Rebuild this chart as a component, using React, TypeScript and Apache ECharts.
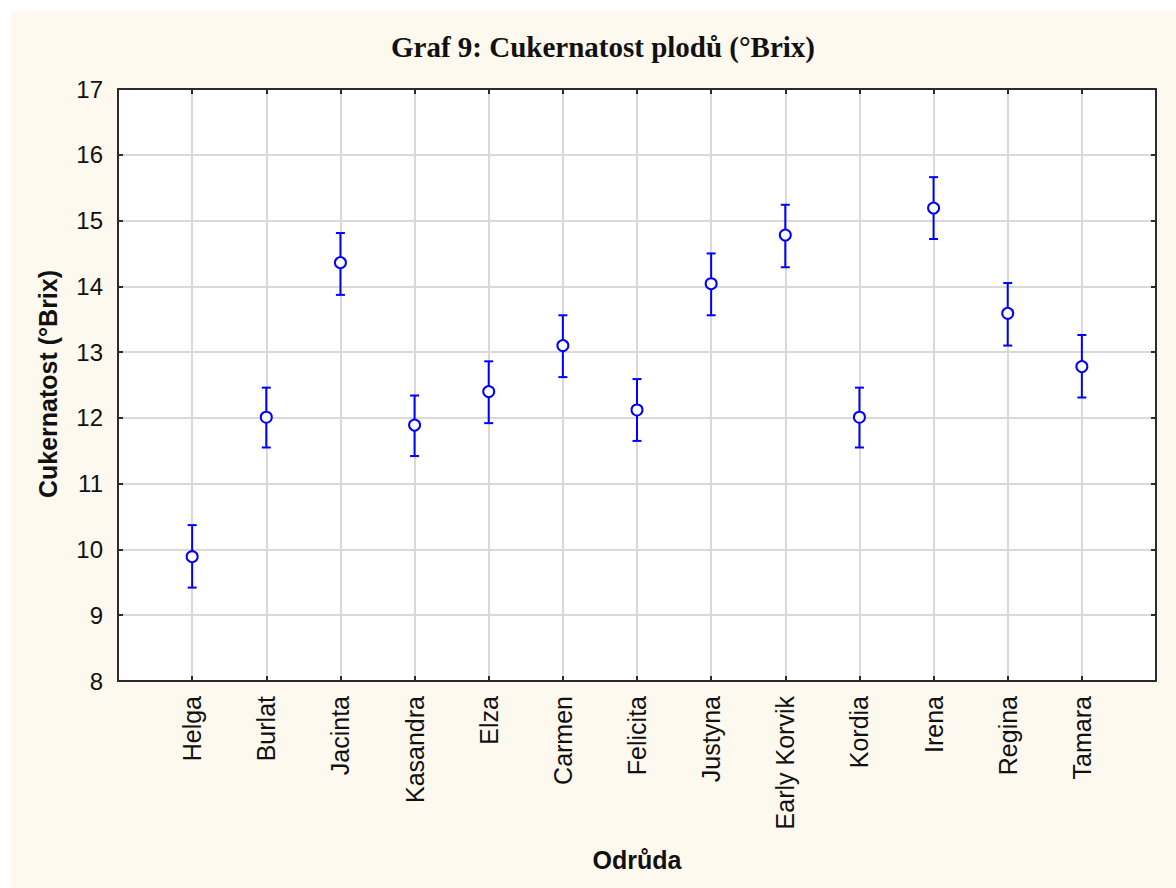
import React, { useEffect, useRef } from "react";
import * as echarts from "echarts";

const categories = [
  "Helga", "Burlat", "Jacinta", "Kasandra", "Elza", "Carmen", "Felicita",
  "Justyna", "Early Korvik", "Kordia", "Irena", "Regina", "Tamara",
];
const means = [9.89, 12.01, 14.36, 11.89, 12.4, 13.1, 12.12, 14.04, 14.78, 12.01, 15.19, 13.59, 12.78];
const lows = [9.42, 11.55, 13.87, 11.42, 11.92, 12.62, 11.65, 13.56, 14.29, 11.55, 14.72, 13.1, 12.31];
const highs = [10.37, 12.46, 14.81, 12.34, 12.86, 13.56, 12.59, 14.5, 15.24, 12.46, 15.66, 14.05, 13.26];
const yTicks = [8, 9, 10, 11, 12, 13, 14, 15, 16, 17];

const titleText = "Graf 9: Cukernatost plodů (°Brix)";
const yName = "Cukernatost (°Brix)";
const xName = "Odrůda";

export default function App() {
  const ref = useRef<HTMLDivElement>(null);
  useEffect(() => {
    if (!ref.current) return;
    const chart = echarts.init(ref.current, null, { renderer: "svg" });
    const blue = "#0000FF";
    const frame = "#2b2b2b";
    const grid = "#D9D9D9";
    const sans = "Arial, 'Liberation Sans', sans-serif";
    const pts = categories.map((_, i) => [i + 1, means[i]]);
    const bars = categories.map((_, i) => [i + 1, lows[i], highs[i]]);
    chart.setOption({
      animation: false,
      backgroundColor: "#ffffff",
      graphic: [
        {
          type: "rect",
          shape: { x: 11, y: 10, width: 1165, height: 878 },
          style: { fill: "#FEF9EE" },
          z: -10,
          silent: true,
        },
        {
          type: "text",
          x: 603,
          y: 47,
          style: {
            text: titleText,
            font: "bold 29px 'Liberation Serif', 'Times New Roman', serif",
            fill: "#111",
            textAlign: "center",
            textVerticalAlign: "middle",
          },
        },
        {
          type: "text",
          x: 48,
          y: 384,
          rotation: Math.PI / 2,
          style: {
            text: yName,
            font: "bold 25px Arial, 'Liberation Sans', sans-serif",
            fill: "#111",
            textAlign: "center",
            textVerticalAlign: "middle",
          },
        },
        {
          type: "text",
          x: 637,
          y: 860,
          style: {
            text: xName,
            font: "bold 25px Arial, 'Liberation Sans', sans-serif",
            fill: "#111",
            textAlign: "center",
            textVerticalAlign: "middle",
          },
        },
      ],
      grid: { left: 118, top: 89, right: 20, bottom: 207, backgroundColor: "#fff", show: true, borderWidth: 0 },
      xAxis: [
        {
          type: "value",
          min: 0,
          max: 14,
          interval: 1,
          position: "bottom",
          axisLine: { show: true, lineStyle: { color: frame, width: 2 } },
          axisTick: { show: true, inside: true, length: 5, lineStyle: { color: frame, width: 2 } },
          axisLabel: {
            rotate: 90,
            margin: 15,
            fontSize: 25,
            color: "#111",
            fontFamily: sans,
            formatter: (v: number) => categories[v - 1] ?? "",
          },
          splitLine: { show: true, lineStyle: { color: grid, width: 2 } },
        },
        {
          type: "value",
          min: 0,
          max: 14,
          interval: 1,
          position: "top",
          axisLine: { show: true, onZero: false, lineStyle: { color: frame, width: 2 } },
          axisTick: { show: true, inside: true, length: 5, lineStyle: { color: frame, width: 2 } },
          axisLabel: { show: false },
          splitLine: { show: false },
        },
      ],
      yAxis: [
        {
          type: "value",
          min: 8,
          max: 17,
          interval: 1,
          position: "left",
          axisLine: { show: true, onZero: false, lineStyle: { color: frame, width: 2 } },
          axisTick: { show: true, inside: true, length: 5, lineStyle: { color: frame, width: 2 } },
          axisLabel: {
            margin: 15,
            fontSize: 24,
            color: "#111",
            fontFamily: sans,
            formatter: (v: number) => (yTicks.includes(v) ? String(v) : ""),
          },
          splitLine: { show: true, lineStyle: { color: grid, width: 2 } },
        },
        {
          type: "value",
          min: 8,
          max: 17,
          interval: 1,
          position: "right",
          axisLine: { show: true, onZero: false, lineStyle: { color: frame, width: 2 } },
          axisTick: { show: true, inside: true, length: 5, lineStyle: { color: frame, width: 2 } },
          axisLabel: { show: false },
          splitLine: { show: false },
        },
      ],
      series: [
        {
          type: "custom",
          xAxisIndex: 0,
          yAxisIndex: 0,
          data: bars,
          encode: { x: 0, y: [1, 2] },
          z: 3,
          renderItem: (params: any, api: any) => {
            const x = api.value(0);
            const lo = api.coord([x, api.value(1)]);
            const hi = api.coord([x, api.value(2)]);
            const h = 4.5;
            const style = { stroke: blue, lineWidth: 2 };
            return {
              type: "group",
              children: [
                { type: "line", shape: { x1: lo[0], y1: lo[1], x2: hi[0], y2: hi[1] }, style },
                { type: "line", shape: { x1: hi[0] - h, y1: hi[1], x2: hi[0] + h, y2: hi[1] }, style },
                { type: "line", shape: { x1: lo[0] - h, y1: lo[1], x2: lo[0] + h, y2: lo[1] }, style },
              ],
            };
          },
        },
        {
          type: "scatter",
          xAxisIndex: 0,
          yAxisIndex: 0,
          data: pts,
          symbol: "circle",
          symbolSize: 11,
          z: 5,
          itemStyle: { color: "#ffffff", borderColor: blue, borderWidth: 2, opacity: 1 },
        },
      ],
    });
    return () => chart.dispose();
  }, []);
  return (
    <div
      ref={ref}
      style={{ position: "fixed", left: 0, top: 0, width: 1176, height: 888 }}
    />
  );
}
